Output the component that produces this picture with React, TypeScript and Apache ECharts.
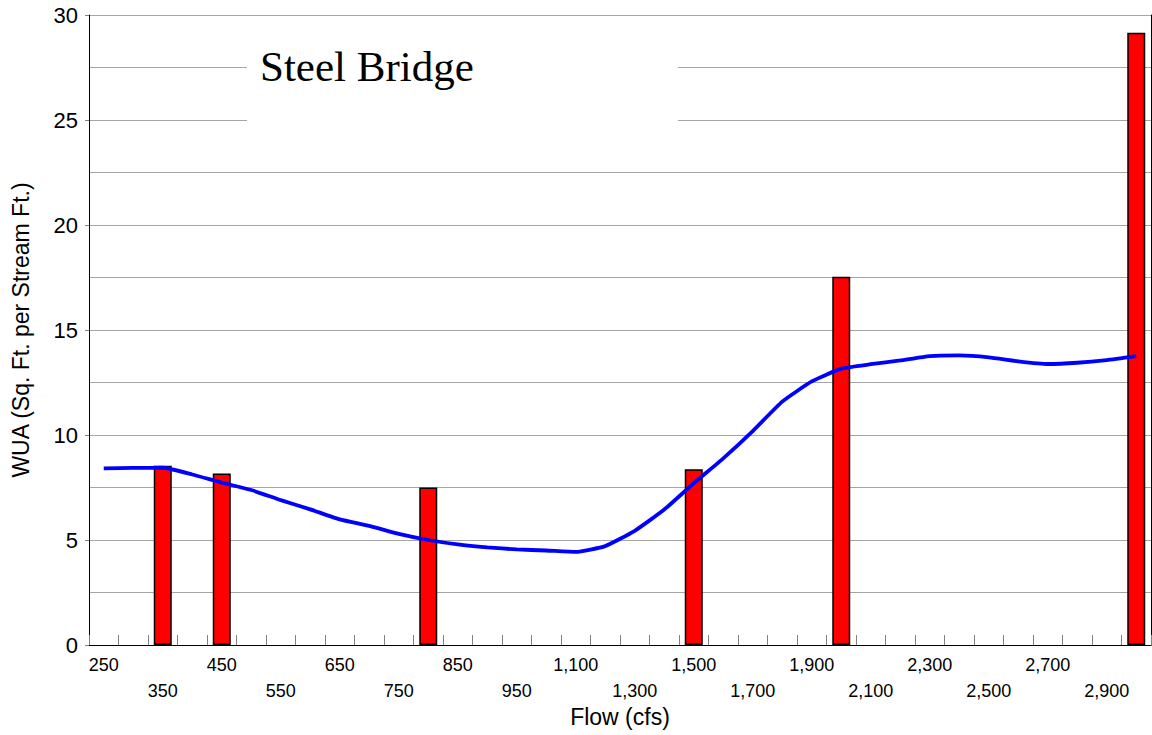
import React, { useEffect, useRef } from "react";
import * as echarts from "echarts";

const flows: number[] = [
  250, 300, 350, 400, 450, 500, 550, 600, 650, 700, 750, 800, 850, 900, 950, 1000,
  1100, 1200, 1300, 1400, 1500, 1600, 1700, 1800, 1900, 2000, 2100, 2200, 2300, 2400,
  2500, 2600, 2700, 2800, 2900, 3000,
];

const wuaCurve: number[] = [
  8.41, 8.43, 8.44, 8.12, 7.73, 7.38, 6.9, 6.46, 5.98, 5.67, 5.29, 5.0, 4.79, 4.65, 4.55, 4.5,
  4.43, 4.71, 5.44, 6.45, 7.7, 8.89, 10.19, 11.59, 12.55, 13.16, 13.37, 13.55, 13.76, 13.79,
  13.7, 13.51, 13.38, 13.44, 13.57, 13.76,
];

const barFlows: number[] = [350, 450, 800, 1500, 2000, 3000];
const barValues: number[] = [8.54, 8.17, 7.5, 8.37, 17.54, 29.16];

const yTicks = { min: 0, max: 30, interval: 5 };

const titleText = "Steel Bridge";
const xName = "Flow (cfs)";
const yName = "WUA (Sq. Ft. per Stream Ft.)";

export default function App() {
  const ref = useRef<HTMLDivElement>(null);

  useEffect(() => {
    if (!ref.current) return;
    const chart = echarts.init(ref.current, undefined, { renderer: "svg" });
    const cats = flows.map((f) => f.toLocaleString("en-US"));
    const barData = flows.map((f) => {
      const k = barFlows.indexOf(f);
      return k >= 0 ? barValues[k] : null;
    });
    const font = 'Arial, "Liberation Sans", sans-serif';

    chart.setOption({
      animation: false,
      backgroundColor: "#ffffff",
      textStyle: { fontFamily: font, color: "#000" },
      grid: {
        left: 89,
        top: 15,
        width: 1062,
        height: 630,
        containLabel: false,
        outerBoundsMode: "none",
      },
      xAxis: {
        type: "category",
        data: cats,
        boundaryGap: true,
        name: xName,
        nameLocation: "middle",
        nameGap: 60,
        nameMoveOverlap: false,
        nameTextStyle: { fontSize: 23, color: "#000", fontFamily: font },
        axisLine: { show: true, lineStyle: { color: "#000", width: 1 } },
        axisTick: {
          show: true,
          inside: true,
          length: 10,
          interval: 0,
          lineStyle: { color: "#808080", width: 1 },
        },
        axisLabel: {
          interval: 1,
          margin: 7,
          fontSize: 18,
          lineHeight: 26,
          color: "#000",
          fontFamily: font,
          formatter: (v: string, i: number) => (i % 4 === 0 ? v : "\n" + v),
        },
        splitLine: { show: false },
      },
      yAxis: [
        {
          type: "value",
          min: yTicks.min,
          max: yTicks.max,
          interval: yTicks.interval,
          name: yName,
          nameLocation: "middle",
          nameGap: 57,
          nameRotate: 90,
          nameMoveOverlap: false,
          nameTextStyle: { fontSize: 23, color: "#000", fontFamily: font },
          axisLine: { show: true, lineStyle: { color: "#000", width: 1 } },
          axisTick: { show: true, inside: false, length: 4, lineStyle: { color: "#808080" } },
          axisLabel: { fontSize: 22, margin: 11, color: "#000", fontFamily: font },
          splitLine: { show: true, lineStyle: { color: "#a6a6a6", width: 1 } },
          minorTick: { show: false, splitNumber: 2 },
          minorSplitLine: { show: true, lineStyle: { color: "#a6a6a6", width: 1 } },
        },
        {
          type: "value",
          position: "right",
          min: yTicks.min,
          max: yTicks.max,
          interval: yTicks.interval,
          axisLine: { show: true, onZero: false, lineStyle: { color: "#000", width: 1 } },
          axisTick: { show: false },
          axisLabel: { show: false },
          splitLine: { show: false },
        },
      ],
      series: [
        {
          type: "bar",
          data: barData,
          barWidth: 18,
          itemStyle: { color: "#ff0000", borderColor: "#000", borderWidth: 1.5 },
          z: 2,
        },
        {
          type: "line",
          data: wuaCurve,
          smooth: 0.15,
          showSymbol: false,
          symbol: "none",
          lineStyle: { color: "#0000ff", width: 3.8 },
          z: 3,
        },
      ],
      graphic: [
        {
          type: "rect",
          shape: { x: 247, y: 45, width: 431, height: 100 },
          style: { fill: "#ffffff" },
          z: 100,
        },
        {
          type: "text",
          x: 260,
          y: 66,
          z: 101,
          style: {
            text: titleText,
            font: '43px "Liberation Serif", "Times New Roman", serif',
            fill: "#000",
            verticalAlign: "middle",
            align: "left",
          },
        },
      ],
    });
    return () => chart.dispose();
  }, []);

  return (
    <div style={{ position: "absolute", left: 0, top: 0, width: 1152, height: 735, background: "#fff" }}>
      <div ref={ref} style={{ width: 1152, height: 735 }} />
    </div>
  );
}
